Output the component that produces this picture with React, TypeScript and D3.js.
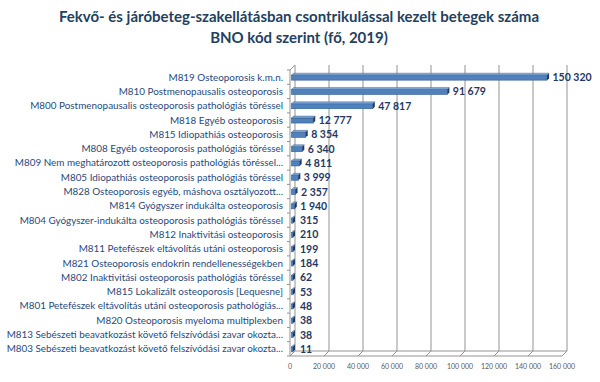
import React from "react";
import * as d3 from "d3";

const categories = [
  "M819 Osteoporosis k.m.n.",
  "M810 Postmenopausalis osteoporosis",
  "M800 Postmenopausalis osteoporosis pathológiás töréssel",
  "M818 Egyéb osteoporosis",
  "M815 Idiopathiás osteoporosis",
  "M808 Egyéb osteoporosis pathológiás töréssel",
  "M809 Nem meghatározott osteoporosis pathológiás töréssel...",
  "M805 Idiopathiás osteoporosis pathológiás töréssel",
  "M828 Osteoporosis egyéb, máshova osztályozott...",
  "M814 Gyógyszer indukálta osteoporosis",
  "M804 Gyógyszer-indukálta osteoporosis pathológiás töréssel",
  "M812 Inaktivitási osteoporosis",
  "M811 Petefészek eltávolítás utáni osteoporosis",
  "M821 Osteoporosis endokrin rendellenességekben",
  "M802 Inaktivitási osteoporosis pathológiás töréssel",
  "M815 Lokalizált osteoporosis [Lequesne]",
  "M801 Petefészek eltávolítás utáni osteoporosis pathológiás...",
  "M820 Osteoporosis myeloma multiplexben",
  "M813 Sebészeti beavatkozást követő felszívódási zavar okozta...",
  "M803 Sebészeti beavatkozást követő felszívódási zavar okozta...",
];
const values = [150320, 91679, 47817, 12777, 8354, 6340, 4811, 3999, 2357, 1940, 315, 210, 199, 184, 62, 53, 48, 38, 38, 11];
const ticks = [0, 20000, 40000, 60000, 80000, 100000, 120000, 140000, 160000];
const titleLines = [
  "Fekvő- és járóbeteg-szakellátásban csontrikulással kezelt betegek száma",
  "BNO kód szerint (fő, 2019)",
];

const W = 600, H = 382;
const left = 290, right = 562, top = 70, bottom = 356;
const DX = 5, DY = -5;

const fmt = (v: number) => d3.format(",")(v).replace(/,/g, " ");

export default function App() {
  const x = d3.scaleLinear().domain([0, 160000]).range([left, right]);
  const y = d3.scaleBand<number>().domain(d3.range(categories.length)).range([top, bottom]);
  const bh = 5;
  return (
    <svg width={W} height={H} style={{ position: "absolute", left: 0, top: 0, background: "#fff" }}>
      <g fontFamily="Lato, 'Open Sans', sans-serif">
        {titleLines.map((t, i) => (
          <text key={i} x={299} y={22 + i * 21} textAnchor="middle" fontSize={15} fontWeight="bold" fill="#243f60">
            {t}
          </text>
        ))}
        {/* back wall gridlines */}
        {ticks.map((t) => (
          <line key={"g" + t} x1={x(t) + DX} x2={x(t) + DX} y1={top + DY} y2={bottom + DY} stroke="#939393" strokeWidth={1} />
        ))}
        {/* floor */}
        <line x1={left} x2={right} y1={bottom} y2={bottom} stroke="#939393" />
        <line x1={left + DX} x2={right + DX} y1={bottom + DY} y2={bottom + DY} stroke="#939393" />
        {ticks.map((t) => (
          <line key={"f" + t} x1={x(t)} x2={x(t) + DX} y1={bottom} y2={bottom + DY} stroke="#939393" />
        ))}
        {/* left wall */}
        <line x1={left} x2={left} y1={top} y2={bottom} stroke="#939393" />
        <line x1={left} x2={left + DX} y1={top} y2={top + DY} stroke="#939393" />
        {d3.range(categories.length + 1).map((i) => {
          const yy = top + i * y.step();
          return <line key={"lt" + i} x1={left - 3} x2={left} y1={yy} y2={yy} stroke="#939393" />;
        })}
        {/* bars */}
        {values.map((v, i) => {
          const cy = (y(i) as number) + y.bandwidth() / 2 + 0.5;
          const x0 = left + 1.5;
          const x1 = Math.max(x(v) + 1.5, x0 + 1.5);
          const y0 = cy - bh / 2;
          const d = 2;
          return (
            <g key={"b" + i}>
              <rect x={x0} y={y0} width={x1 - x0} height={bh} fill="#4f81bd" stroke="#385d8a" strokeWidth={0.6} />
              <path d={`M${x0},${y0} L${x0 + d},${y0 - d} L${x1 + d},${y0 - d} L${x1},${y0} Z`} fill="#7ea3d4" stroke="#385d8a" strokeWidth={0.4} />
              <path d={`M${x1},${y0} L${x1 + d},${y0 - d} L${x1 + d},${y0 + bh - d} L${x1},${y0 + bh} Z`} fill="#1f3b63" />
            </g>
          );
        })}
        {/* value labels */}
        {values.map((v, i) => {
          const cy = (y(i) as number) + y.bandwidth() / 2;
          return (
            <text key={"v" + i} x={Math.max(x(v), left + 3) + 7} y={cy + 4} fontSize={10.5} fontWeight="bold" fill="#1f3864">
              {fmt(v)}
            </text>
          );
        })}
        {/* category labels */}
        {categories.map((c, i) => {
          const cy = (y(i) as number) + y.bandwidth() / 2;
          return (
            <text key={"c" + i} x={283} y={cy + 3.5} textAnchor="end" fontSize={9.9} fill="#1f497d">
              {c}
            </text>
          );
        })}
        {/* x tick labels */}
        {ticks.map((t) => (
          <text key={"t" + t} x={x(t)} y={369} textAnchor="middle" fontSize={7} fill="#595959">
            {fmt(t)}
          </text>
        ))}
      </g>
    </svg>
  );
}
